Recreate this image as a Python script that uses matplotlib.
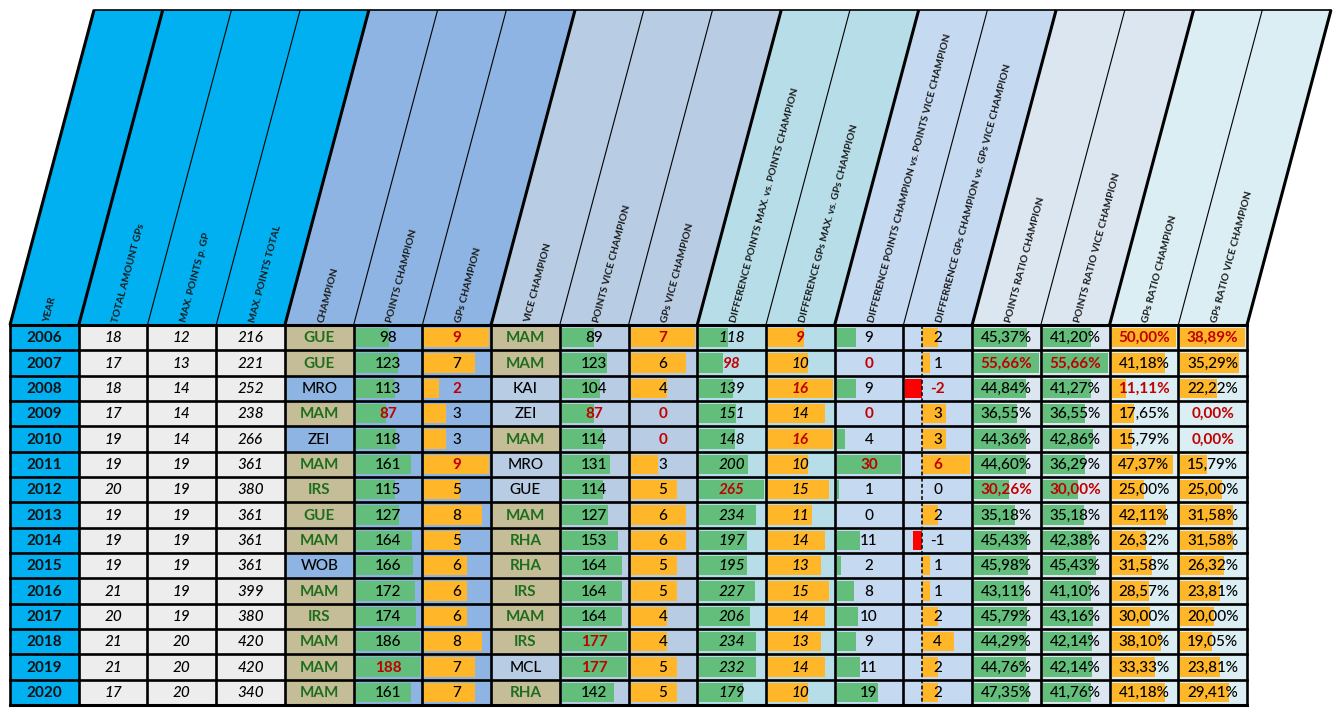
import math
import matplotlib
matplotlib.use("Agg")
import matplotlib.pyplot as plt
from matplotlib.patches import Polygon, Rectangle

plt.rcParams['font.family'] = ['Lato', 'DejaVu Sans']

# table data
years = [2006, 2007, 2008, 2009, 2010, 2011, 2012, 2013, 2014, 2015, 2016, 2017, 2018, 2019, 2020]
total_gps = [18, 17, 18, 17, 19, 19, 20, 19, 19, 19, 21, 20, 21, 21, 17]
max_pts_gp = [12, 13, 14, 14, 14, 19, 19, 19, 19, 19, 19, 19, 20, 20, 20]
max_pts_total = [216, 221, 252, 238, 266, 361, 380, 361, 361, 361, 399, 380, 420, 420, 340]
champion = ['GUE', 'GUE', 'MRO', 'MAM', 'ZEI', 'MAM', 'IRS', 'GUE', 'MAM', 'WOB', 'MAM', 'IRS', 'MAM', 'MAM', 'MAM']
pts_champ = [98, 123, 113, 87, 118, 161, 115, 127, 164, 166, 172, 174, 186, 188, 161]
gps_champ = [9, 7, 2, 3, 3, 9, 5, 8, 5, 6, 6, 6, 8, 7, 7]
vice = ['MAM', 'MAM', 'KAI', 'ZEI', 'MAM', 'MRO', 'GUE', 'MAM', 'RHA', 'RHA', 'IRS', 'MAM', 'IRS', 'MCL', 'RHA']
pts_vice = [89, 123, 104, 87, 114, 131, 114, 127, 153, 164, 164, 164, 177, 177, 142]
gps_vice = [7, 6, 4, 0, 0, 3, 5, 6, 6, 5, 5, 4, 4, 5, 5]
diff_pts_max = [118, 98, 139, 151, 148, 200, 265, 234, 197, 195, 227, 206, 234, 232, 179]
diff_gps_max = [9, 10, 16, 14, 16, 10, 15, 11, 14, 13, 15, 14, 13, 14, 10]
diff_pts_cv = [9, 0, 9, 0, 4, 30, 1, 0, 11, 2, 8, 10, 9, 11, 19]
diff_gps_cv = [2, 1, -2, 3, 3, 6, 0, 2, -1, 1, 1, 2, 4, 2, 2]
ratio_pts_c = [45.37, 55.66, 44.84, 36.55, 44.36, 44.60, 30.26, 35.18, 45.43, 45.98, 43.11, 45.79, 44.29, 44.76, 47.35]
ratio_pts_v = [41.20, 55.66, 41.27, 36.55, 42.86, 36.29, 30.00, 35.18, 42.38, 45.43, 41.10, 43.16, 42.14, 42.14, 41.76]
ratio_gps_c = [50.00, 41.18, 11.11, 17.65, 15.79, 47.37, 25.00, 42.11, 26.32, 31.58, 28.57, 30.00, 38.10, 33.33, 41.18]
ratio_gps_v = [38.89, 35.29, 22.22, 0.00, 0.00, 15.79, 25.00, 31.58, 31.58, 26.32, 23.81, 20.00, 19.05, 23.81, 29.41]

headers = ['YEAR', 'TOTAL AMOUNT GPs', 'MAX. POINTS p. GP', 'MAX. POINTS TOTAL', 'CHAMPION',
           'POINTS CHAMPION', 'GPs CHAMPION', 'VICE CHAMPION', 'POINTS VICE CHAMPION', 'GPs VICE CHAMPION',
           'DIFFERENCE POINTS MAX. vs. POINTS CHAMPION', 'DIFFERENCE GPs MAX. vs. GPs CHAMPION',
           'DIFFERENCE POINTS CHAMPION vs. POINTS VICE CHAMPION', 'DIFFERRENCE GPs CHAMPION vs. GPs VICE CHAMPION',
           'POINTS RATIO CHAMPION', 'POINTS RATIO VICE CHAMPION', 'GPs RATIO CHAMPION', 'GPs RATIO VICE CHAMPION']

# which team cells are marked (tan background, bold green text)
champ_marked = [1, 1, 0, 1, 0, 1, 1, 1, 1, 0, 1, 1, 1, 1, 1]
vice_marked = [1, 1, 0, 0, 1, 0, 0, 1, 1, 1, 1, 1, 1, 0, 1]
# years whose value is shown in bold red, per column
red_years = {
    5: [2009, 2019], 6: [2006, 2008, 2011], 8: [2009, 2018, 2019], 9: [2006, 2009, 2010],
    10: [2007, 2012], 11: [2006, 2008, 2010], 12: [2007, 2009, 2011], 13: [2008, 2011],
    14: [2007, 2012], 15: [2007, 2012], 16: [2006, 2008], 17: [2006, 2009, 2010],
}

# colours
BLUE = '#00B0F0'
GRAY = '#EDEDED'
MID = '#8DB4E2'
LIGHT = '#B8CCE4'
TEAL = '#B7DEE8'
PALE = '#C5D9F1'
PALE2 = '#DCE6F1'
PALE3 = '#DAEEF3'
TAN = '#C4BD97'
GREEN_BAR = '#63BE7B'
ORANGE_BAR = '#FFB628'
RED = '#C00000'
GREEN_TXT = '#1E6E1E'

hdr_colors = [BLUE] * 4 + [MID] * 3 + [LIGHT] * 3 + [TEAL] * 2 + [PALE] * 2 + [PALE2] * 2 + [PALE3] * 2
thick_bounds = [0, 1, 4, 7, 10, 12, 14, 16, 18]

# geometry (pixels)
x0, x1 = 10, 1247
ncol = 18
cw = (x1 - x0) / ncol
top_y, hdr_y, bot_y = 10, 325, 705
nrow = len(years)
rh = (bot_y - hdr_y) / nrow
slant = 84

fig = plt.figure(figsize=(13.4, 7.16), dpi=100)
ax = fig.add_axes([0, 0, 1, 1])
ax.set_xlim(0, 1340)
ax.set_ylim(716, 0)
ax.axis('off')

# header parallelograms
ang = math.degrees(math.atan2(hdr_y - top_y, slant))
for i in range(ncol):
    l = x0 + i * cw
    r = l + cw
    ax.add_patch(Polygon([(l, hdr_y), (r, hdr_y), (r + slant, top_y), (l + slant, top_y)],
                         closed=True, facecolor=hdr_colors[i], edgecolor='none'))
    ax.text(l + cw * 0.53, hdr_y - 3, headers[i], rotation=ang, rotation_mode='anchor',
            ha='left', va='center', fontsize=7.3, fontweight='bold', fontstyle='normal',
            color='#1a1a1a')
for b in range(ncol + 1):
    xb = x0 + b * cw
    lw = 2.2 if b in thick_bounds else 0.8
    ax.plot([xb, xb + slant], [hdr_y, top_y], color='black', lw=lw, solid_capstyle='butt')
ax.plot([x0 + slant, x1 + slant], [top_y, top_y], color='black', lw=1.2)


def cell_rect(c, r, color):
    ax.add_patch(Rectangle((x0 + c * cw, hdr_y + r * rh), cw, rh, facecolor=color, edgecolor='none'))


def bar(c, r, val, vmin, vmax, color):
    pad = 2
    usable = cw - 4
    span = vmax - min(vmin, 0)
    zero = x0 + c * cw + pad + usable * (-min(vmin, 0) / span)
    length = usable * val / span
    y = hdr_y + r * rh + 3
    h = rh - 6
    col = color if val >= 0 else '#FF0000'
    ax.add_patch(Rectangle((zero, y), length, h, facecolor=col, edgecolor='none'))
    return zero


def put(c, r, txt, bold=False, italic=False, color='black'):
    ax.text(x0 + (c + 0.5) * cw, hdr_y + (r + 0.5) * rh + 0.5, txt, ha='center', va='center',
            fontsize=11, fontweight='bold' if bold else 'medium',
            fontstyle='italic' if italic else 'normal', color=color)


bar_cols = [
    (5, pts_champ, MID, GREEN_BAR, False, '{:d}'),
    (6, gps_champ, MID, ORANGE_BAR, False, '{:d}'),
    (8, pts_vice, LIGHT, GREEN_BAR, False, '{:d}'),
    (9, gps_vice, LIGHT, ORANGE_BAR, False, '{:d}'),
    (10, diff_pts_max, TEAL, GREEN_BAR, True, '{:d}'),
    (11, diff_gps_max, TEAL, ORANGE_BAR, True, '{:d}'),
    (12, diff_pts_cv, PALE, GREEN_BAR, False, '{:d}'),
    (13, diff_gps_cv, PALE, ORANGE_BAR, False, '{:d}'),
    (14, ratio_pts_c, PALE2, GREEN_BAR, False, 'pct'),
    (15, ratio_pts_v, PALE2, GREEN_BAR, False, 'pct'),
    (16, ratio_gps_c, PALE3, ORANGE_BAR, False, 'pct'),
    (17, ratio_gps_v, PALE3, ORANGE_BAR, False, 'pct'),
]

for r in range(nrow):
    cell_rect(0, r, BLUE)
    put(0, r, str(years[r]), bold=True, color='#111111')
    for c, vals in [(1, total_gps), (2, max_pts_gp), (3, max_pts_total)]:
        cell_rect(c, r, GRAY)
        put(c, r, str(vals[r]), italic=True)
    for c, names, marks, base in [(4, champion, champ_marked, MID), (7, vice, vice_marked, LIGHT)]:
        hl = marks[r] == 1
        cell_rect(c, r, TAN if hl else base)
        put(c, r, names[r], bold=hl, color=GREEN_TXT if hl else 'black')

axis_x = None
for c, vals, bg, bcol, ital, fmt in bar_cols:
    vmin, vmax = min(vals), max(vals)
    for r in range(nrow):
        cell_rect(c, r, bg)
        z = bar(c, r, vals[r], vmin, vmax, bcol)
        if c == 13:
            axis_x = z
        if fmt == 'pct':
            txt = '{:.2f}%'.format(vals[r]).replace('.', ',')
        else:
            txt = fmt.format(vals[r])
        ext = years[r] in red_years[c]
        put(c, r, txt, bold=ext, italic=ital, color=RED if ext else 'black')

# dashed axis of the negative data bar column
ax.plot([axis_x, axis_x], [hdr_y, bot_y], color='black', lw=1.1, ls=(0, (2.5, 1.5)))

# grid lines of the body
for b in range(ncol + 1):
    xb = x0 + b * cw
    ax.plot([xb, xb], [hdr_y, bot_y], color='black', lw=1.9, solid_capstyle='projecting')
for r in range(nrow + 1):
    yb = hdr_y + r * rh
    ax.plot([x0, x1], [yb, yb], color='black', lw=2.2 if r in (0, nrow) else 1.9,
            solid_capstyle='projecting')

fig.savefig('out.png', dpi=100)
